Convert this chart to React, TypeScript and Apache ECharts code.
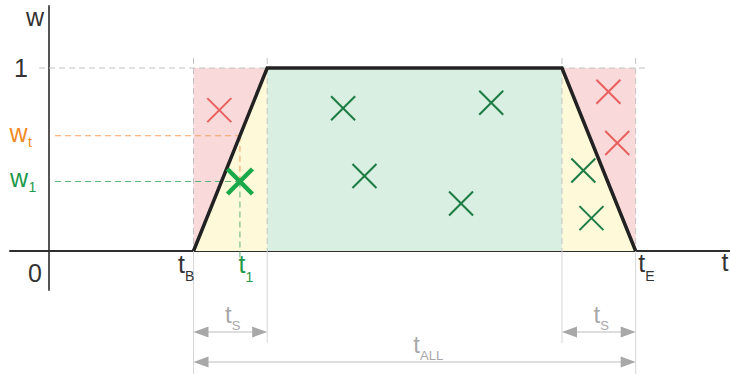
import { useEffect, useRef } from "react";
import * as echarts from "echarts";

// ---- values ----
const tB = 1.96; // begin of window
const tS = 1; // slope duration
const tALL = 6; // whole window
const t1 = 2.59; // sample time
const w1 = 0.38; // sample weight
const wt = 0.63; // weight threshold at t1
const wTop = 1;
const acceptedX = [3.99, 6.0, 4.28, 5.59, 7.25, 7.36];
const acceptedW = [0.78, 0.81, 0.41, 0.26, 0.44, 0.18];
const rejectedX = [2.31, 7.59, 7.71];
const rejectedW = [0.77, 0.87, 0.59];
const yTickValues = [0, 1];
const yTickLabels = ["0", "1"];

const tE = tB + tALL;

const C = {
  pink: "#f9d9d9",
  yellow: "#fdf9d9",
  green: "#d9efe1",
  line: "#222222",
  guide: "#c2c2c2",
  light: "#d6d6d6",
  dim: "#a8a8a8",
  dimLine: "#d2d2d2",
  orange: "#f28a26",
  orangeLine: "#f4a262",
  greenText: "#1e9a4b",
  greenLine: "#5cb47c",
  crossGreen: "#1d7c45",
  crossRed: "#e8605f",
  bigGreen: "#19a94b",
  text: "#333333",
};
const FONT = '"Liberation Sans", Arial, sans-serif';

function txt(x: number, base: number, s: string, fs: number, fill: string, align = "center") {
  return {
    type: "text",
    x,
    y: base - 0.3465 * fs,
    style: { text: s, fontSize: fs, fontFamily: FONT, fill, align, verticalAlign: "middle" },
  };
}

function lbl(
  x: number,
  base: number,
  main: string,
  sub: string,
  fill: string,
  fs: number,
  subFs: number,
  half: number,
  subDy: number
) {
  const out: any[] = [txt(x, base, main, fs, fill)];
  if (sub) out.push(txt(x + half, base + subDy, sub, subFs, fill, "left"));
  return out;
}

export default function App() {
  const ref = useRef<HTMLDivElement>(null);

  useEffect(() => {
    if (!ref.current) return;
    const chart = echarts.init(ref.current, undefined, { renderer: "svg" });

    const regions = [
      { pts: [[tB, 0], [tB, wTop], [tB + tS, wTop]], fill: C.pink },
      { pts: [[tB, 0], [tB + tS, wTop], [tB + tS, 0]], fill: C.yellow },
      { pts: [[tB + tS, 0], [tB + tS, wTop], [tE - tS, wTop], [tE - tS, 0]], fill: C.green },
      { pts: [[tE - tS, 0], [tE - tS, wTop], [tE, 0]], fill: C.yellow },
      { pts: [[tE - tS, wTop], [tE, wTop], [tE, 0]], fill: C.pink },
    ];

    const dash = [6, 4];
    const guides = [
      { a: [0, wTop], da: [-10, 0], b: [tE, wTop], db: [12, 0], c: C.guide, d: dash },
      { a: [tB, wTop], da: [0, -10], b: [tB, 0], db: [0, 0], c: C.guide, d: dash },
      { a: [tB + tS, wTop], da: [0, -10], b: [tB + tS, 0], db: [0, 0], c: C.guide, d: dash },
      { a: [tE - tS, wTop], da: [0, -10], b: [tE - tS, 0], db: [0, 0], c: C.guide, d: dash },
      { a: [tE, wTop], da: [0, -10], b: [tE, 0], db: [0, 0], c: C.guide, d: dash },
      { a: [tB, 0], da: [0, 0], b: [tB, 0], db: [0, 124], c: C.light, d: null },
      { a: [tB + tS, 0], da: [0, 0], b: [tB + tS, 0], db: [0, 92], c: C.light, d: null },
      { a: [tE - tS, 0], da: [0, 0], b: [tE - tS, 0], db: [0, 92], c: C.light, d: null },
      { a: [tE, 0], da: [0, 0], b: [tE, 0], db: [0, 124], c: C.light, d: null },
      { a: [0, wt], da: [6, 0], b: [t1, wt], db: [0, 0], c: C.orangeLine, d: dash },
      { a: [0, w1], da: [6, 0], b: [t1, w1], db: [0, 0], c: C.greenLine, d: dash },
      { a: [t1, wt], da: [0, 0], b: [t1, w1], db: [0, 0], c: C.orangeLine, d: dash },
      { a: [t1, w1], da: [0, 0], b: [t1, 0], db: [0, 10], c: C.greenLine, d: dash },
    ];

    const dims = [
      { a: tB, b: tB + tS, dy: 81, main: "t", sub: "S", dx: -2 },
      { a: tE - tS, b: tE, dy: 81, main: "t", sub: "S", dx: -2 },
      { a: tB, b: tE, dy: 111, main: "t", sub: "ALL", dx: 2 },
    ];

    const crossItem = (half: number, width: number, color: string) => (p: any, api: any) => {
      const [cx, cy] = api.coord([api.value(0), api.value(1)]);
      const st = { stroke: color, lineWidth: width };
      return {
        type: "group",
        children: [
          { type: "line", shape: { x1: cx - half, y1: cy - half, x2: cx + half, y2: cy + half }, style: st },
          { type: "line", shape: { x1: cx - half, y1: cy + half, x2: cx + half, y2: cy - half }, style: st },
        ],
      };
    };

    const option: any = {
      animation: false,
      grid: { left: 10, right: 0, top: 6, bottom: 84 },
      xAxis: {
        type: "value",
        min: -0.53,
        max: 9.24,
        axisLine: { show: true, onZero: true, lineStyle: { color: "#2e2e2e", width: 2 } },
        axisTick: { show: false },
        axisLabel: { show: false },
        splitLine: { show: false },
      },
      yAxis: {
        type: "value",
        min: -0.213,
        max: 1.339,
        axisLine: { show: true, onZero: true, lineStyle: { color: "#555555", width: 2 } },
        axisTick: { show: false },
        axisLabel: { show: false },
        splitLine: { show: false },
      },
      series: [
        {
          type: "custom",
          silent: true,
          z: 1,
          data: regions.map((r) => r.pts[0]),
          renderItem: (p: any, api: any) => {
            const r = regions[p.dataIndex];
            return {
              type: "polygon",
              shape: { points: r.pts.map((pt) => api.coord(pt)) },
              style: { fill: r.fill },
            };
          },
        },
        {
          type: "custom",
          silent: true,
          z: 2,
          data: guides.map((g) => g.a),
          renderItem: (p: any, api: any) => {
            const g = guides[p.dataIndex];
            const A = api.coord(g.a);
            const B = api.coord(g.b);
            return {
              type: "line",
              shape: { x1: A[0] + g.da[0], y1: A[1] + g.da[1], x2: B[0] + g.db[0], y2: B[1] + g.db[1] },
              style: { stroke: g.c, lineWidth: 1, lineDash: g.d || undefined },
            };
          },
        },
        {
          type: "line",
          silent: true,
          z: 3,
          symbol: "none",
          data: [[tB, 0], [tB + tS, wTop], [tE - tS, wTop], [tE, 0]],
          lineStyle: { color: C.line, width: 3.5, join: "miter" },
        },
        {
          type: "custom",
          silent: true,
          z: 4,
          data: acceptedX.map((x, i) => [x, acceptedW[i]]),
          renderItem: crossItem(12, 2, C.crossGreen),
        },
        {
          type: "custom",
          silent: true,
          z: 4,
          data: rejectedX.map((x, i) => [x, rejectedW[i]]),
          renderItem: crossItem(12, 2, C.crossRed),
        },
        {
          type: "custom",
          silent: true,
          z: 5,
          data: [[t1, w1]],
          renderItem: crossItem(12.5, 4.5, C.bigGreen),
        },
        {
          type: "custom",
          silent: true,
          z: 5,
          data: dims.map((d) => [d.a, 0]),
          renderItem: (p: any, api: any) => {
            const d = dims[p.dataIndex];
            const A = api.coord([d.a, 0]);
            const B = api.coord([d.b, 0]);
            const y = A[1] + d.dy;
            const L = 15;
            const H = 5.5;
            const mid = (A[0] + B[0]) / 2 + d.dx;
            return {
              type: "group",
              children: [
                { type: "line", shape: { x1: A[0] + 2, y1: y, x2: B[0] - 2, y2: y }, style: { stroke: C.dimLine, lineWidth: 1.5 } },
                { type: "polygon", shape: { points: [[A[0], y], [A[0] + L, y - H], [A[0] + L, y + H]] }, style: { fill: C.dim } },
                { type: "polygon", shape: { points: [[B[0], y], [B[0] - L, y - H], [B[0] - L, y + H]] }, style: { fill: C.dim } },
                ...lbl(mid, y - 9, d.main, d.sub, C.dim, 24, 13, 3.5, 7),
              ],
            };
          },
        },
        {
          type: "custom",
          silent: true,
          z: 6,
          data: [[0, 0]],
          renderItem: (p: any, api: any) => {
            const O = api.coord([0, 0]);
            const top = api.coord([0, 1.339]);
            const right = api.coord([9.24, 0]);
            const ch: any[] = [];
            yTickValues.forEach((v, i) => {
              const P = api.coord([0, v]);
              if (v === 0) ch.push(txt(P[0] - 14, P[1] + 31, yTickLabels[i], 25, C.text));
              else ch.push(txt(P[0] - 28, P[1] + 9, yTickLabels[i], 25, C.text));
            });
            ch.push(txt(top[0] - 14, top[1] + 20, "w", 25, C.text));
            ch.push(txt(right[0] - 5, right[1] + 20, "t", 25, C.text));
            const pWt = api.coord([0, wt]);
            ch.push(...lbl(pWt[0] - 30.5, pWt[1] + 5.5, "w", "t", C.orange, 25, 14, 9.5, 6));
            const pW1 = api.coord([0, w1]);
            ch.push(...lbl(pW1[0] - 30, pW1[1] + 5.5, "w", "1", C.greenText, 25, 14, 9.5, 4.5));
            const pB = api.coord([tB, 0]);
            ch.push(...lbl(pB[0] - 12, O[1] + 22, "t", "B", C.text, 25, 14, 3.5, 8));
            const p1 = api.coord([t1, 0]);
            ch.push(...lbl(p1[0] + 2, O[1] + 22, "t", "1", C.greenText, 25, 14, 3.5, 8.5));
            const pE = api.coord([tE, 0]);
            ch.push(...lbl(pE[0] + 6, O[1] + 21, "t", "E", C.text, 25, 14, 3.5, 9));
            return { type: "group", children: ch };
          },
        },
      ],
    };

    chart.setOption(option);
    return () => chart.dispose();
  }, []);

  return (
    <div
      ref={ref}
      style={{ position: "absolute", left: 0, top: 0, width: 730, height: 374, background: "#fff" }}
    />
  );
}
